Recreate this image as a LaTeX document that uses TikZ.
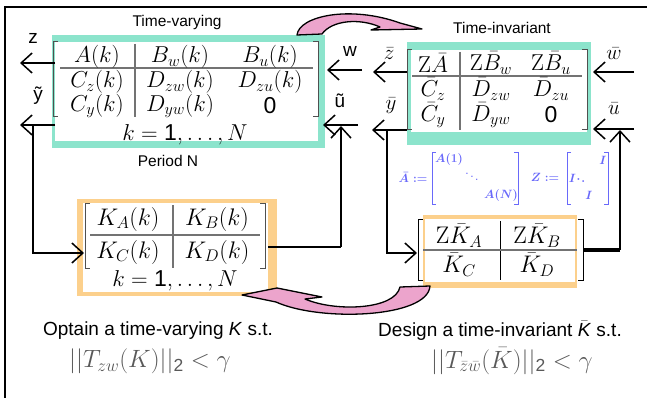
\RequirePackage{fix-cm}
\documentclass[tikz,border=0pt]{standalone}
\usepackage{amsmath}
\usepackage[no-math]{fontspec}
\setmainfont{Liberation Sans}
\usetikzlibrary{arrows.meta}
\definecolor{tealband}{RGB}{140,228,204}
\definecolor{orband}{RGB}{252,208,140}
\definecolor{pinkfill}{RGB}{236,164,204}
\definecolor{bluetext}{RGB}{105,105,250}
\definecolor{brk}{RGB}{80,80,80}
\newcommand\setfs[1]{\fontsize{#1}{#1}\selectfont}
\tikzset{
  conn/.style={line width=1.5pt,-{Straight Barb[length=11pt,width=20pt,line width=1.5pt]}},
  wire/.style={line width=1.5pt},
  brkst/.style={draw=brk,line width=1pt},
  sepst/.style={draw=brk!80,line width=1.1pt},
  ent/.style={font=\setfs{23},inner sep=0pt},
  entb/.style={font=\setfs{24},inner sep=0pt},
  lbl/.style={font=\setfs{15.5},inner sep=0pt},
  sig/.style={font=\setfs{19},inner sep=0pt},
  msig/.style={font=\setfs{21},inner sep=0pt},
  blue/.style={font=\setfs{12}\boldmath,text=bluetext,inner sep=0pt},
  capt/.style={font=\setfs{19},inner sep=0pt},
  form/.style={font=\setfs{25},text=black!65,inner sep=0pt},
  pinkarrow/.style={fill=pinkfill,draw=black,line width=1.3pt,line join=round}
}
\begin{document}
\begin{tikzpicture}[x=1pt,y=-1pt]
\useasboundingbox (0,0) rectangle (647,398);
% outer frame
\draw[line width=2pt] (4,7) -- (647,7);
\draw[line width=1.5pt] (5,7) -- (5,398);

% ---------- time-varying plant block ----------
\fill[tealband] (52,35) rectangle (325,148);
\fill[white] (55,42) rectangle (318,141);
\draw[brkst] (58,42) -- (53,42) -- (53,117) -- (58,117);
\draw[brkst] (313,42) -- (318,42) -- (318,117) -- (313,117);
\draw[sepst] (135,44) -- (135,117);
\draw[sepst] (60,68) -- (313,68);
\node[ent] (p11) at (97,57) {$A(k)$};
\node[ent] (p12) at (180,57) {$B_w(k)$};
\node[ent] (p13) at (270,57) {$B_u(k)$};
\node[ent] (p21) at (97,82) {$C_z(k)$};
\node[ent] (p22) at (180,82) {$D_{zw}(k)$};
\node[ent] (p23) at (270,82) {$D_{zu}(k)$};
\node[ent] (p31) at (97,106) {$C_y(k)$};
\node[ent] (p32) at (180,106) {$D_{yw}(k)$};
\node[ent] (p33) at (270,106) {$\text{0}$};
\node[ent] (pk) at (185,135) {$k=\text{1},\ldots,N$};
\node[lbl] (tv) at (177,22) {Time-varying};
\node[lbl] (per) at (168,161) {Period N};

% ---------- time-invariant plant block ----------
\fill[tealband] (407,42) rectangle (591,145);
\fill[white] (411,50) rectangle (587,132);
\draw[brkst] (412,50) -- (407,50) -- (407,130) -- (412,130);
\draw[brkst] (582,50) -- (587,50) -- (587,130) -- (582,130);
\draw[sepst] (460,52) -- (460,130);
\draw[sepst] (412,76) -- (582,76);
\node[ent] (q11) at (433,63) {$\mathrm{Z}\bar A$};
\node[ent] (q12) at (491,63) {$\mathrm{Z}\bar B_w$};
\node[ent] (q13) at (551,63) {$\mathrm{Z}\bar B_u$};
\node[ent] (q21) at (433,89) {$\bar C_z$};
\node[ent] (q22) at (491,89) {$\bar D_{zw}$};
\node[ent] (q23) at (551,89) {$\bar D_{zu}$};
\node[ent] (q31) at (433,115) {$\bar C_y$};
\node[ent] (q32) at (491,115) {$\bar D_{yw}$};
\node[ent] (q33) at (551,115) {$\text{0}$};
\node[lbl] (ti) at (502,28) {Time-invariant};

% ---------- time-varying controller ----------
\fill[orband] (77,199) rectangle (277,296);
\fill[white] (83,203) rectangle (268,292);
\draw[brkst] (90,203) -- (85,203) -- (85,268) -- (90,268);
\draw[brkst] (260,203) -- (265,203) -- (265,268) -- (260,268);
\draw[sepst] (173,205) -- (173,268);
\draw[sepst] (90,235) -- (260,235);
\node[entb] (k11) at (128,219) {$K_A(k)$};
\node[entb] (k12) at (217,219) {$K_B(k)$};
\node[entb] (k21) at (128,252) {$K_C(k)$};
\node[entb] (k22) at (217,252) {$K_D(k)$};
\node[ent] (kk) at (175,281) {$k=\text{1},\ldots,N$};

% ---------- time-invariant controller ----------
\fill[orband] (423,215) rectangle (577,288);
\fill[white] (425,219) rectangle (575,282);
\draw[draw=black,line width=1pt] (423,219) -- (418,219) -- (418,280) -- (423,280);
\draw[draw=black,line width=1pt] (578,219) -- (583,219) -- (583,280) -- (578,280);
\draw[draw=black,line width=0.9pt] (500,221) -- (500,280);
\draw[sepst] (423,250) -- (577,250);
\node[entb] (b11) at (459,236) {$\mathrm{Z}\bar K_A$};
\node[entb] (b12) at (537,236) {$\mathrm{Z}\bar K_B$};
\node[entb] (b21) at (459,265) {$\bar K_C$};
\node[entb] (b22) at (537,265) {$\bar K_D$};

% ---------- blue definitions ----------
\node[blue] (abar) at (413,177) {$\bar A :=$};
\draw[bluetext,line width=0.9pt] (436,152) -- (432,152) -- (432,204) -- (436,204);
\draw[bluetext,line width=0.9pt] (514,152) -- (518,152) -- (518,204) -- (514,204);
\node[blue] (a1) at (449,160) {$A(1)$};
\node[blue] (ad) at (472,174) {$\ddots$};
\node[blue] (aN) at (501,195) {$A(N)$};
\node[blue] (zdef) at (545,177) {$Z :=$};
\draw[bluetext,line width=0.9pt] (571,152) -- (567,152) -- (567,204) -- (571,204);
\draw[bluetext,line width=0.9pt] (604,152) -- (608,152) -- (608,204) -- (604,204);
\node[blue] (z1) at (603,160) {$I$};
\node[blue] (z2) at (577,178) {$I\!\cdot\!.$};
\node[blue] (z3) at (589,195) {$I$};

% ---------- coordinates for connectors ----------
\coordinate (zS) at (55,63);  \coordinate (zE) at (20,63);
\coordinate (yS) at (55,125); \coordinate (yE) at (20,125);
\coordinate (yT) at (33,125); \coordinate (yB) at (33,253); \coordinate (kIn) at (84,253);
\coordinate (wS) at (362,70); \coordinate (wE) at (327,70);
\coordinate (utS) at (358,125); \coordinate (utE) at (323,125);
\coordinate (kOut) at (268,247); \coordinate (kC) at (341,247); \coordinate (utT) at (341,126);
\coordinate (zbS) at (407,72); \coordinate (zbE) at (373,72);
\coordinate (ybS) at (407,130); \coordinate (ybE) at (372,130);
\coordinate (ybT) at (387,130); \coordinate (ybB) at (387,253); \coordinate (kbIn) at (417,253);
\coordinate (wbS) at (634,72); \coordinate (wbE) at (593,72);
\coordinate (ubS) at (634,129); \coordinate (ubE) at (593,129);
\coordinate (kbOut) at (583,250); \coordinate (kbC) at (620,250); \coordinate (ubT) at (620,130);

\draw[conn] (zS) -- (zE);
\draw[conn] (yS) -- (yE);
\draw[conn] (yT) -- (yB) -- (kIn);
\draw[conn] (wS) -- (wE);
\draw[conn] (utS) -- (utE);
\draw[wire] (kOut) -- (kC);
\draw[conn] (kC) -- (utT);
\draw[conn] (zbS) -- (zbE);
\draw[conn] (ybS) -- (ybE);
\draw[conn] (ybT) -- (ybB) -- (kbIn);
\draw[conn] (wbS) -- (wbE);
\draw[conn] (ubS) -- (ubE);
\draw[line width=3.2pt] (kbOut) -- (kbC);
\draw[conn] (kbC) -- (ubT);

% signal labels
\node[sig] (lz) at (33,38) {z};
\node[sig] (ly) at (38,96) {\~{y}};
\node[sig] (lw) at (350,51) {w};
\node[sig] (lut) at (340,101) {\~{u}};
\node[msig] (lzb) at (389,54) {$\bar z$};
\node[msig] (lyb) at (391,106) {$\bar y$};
\node[msig] (lwb) at (614,54) {$\bar w$};
\node[msig] (lub) at (614,109) {$\bar u$};

% ---------- pink curved arrows ----------
\path[pinkarrow] (297,35) .. controls (299,16) and (350,5) .. (400,23)
  -- (422,29) -- (371,30) -- (380,27) .. controls (360,18) and (332,20) .. (322,34) -- cycle;
\path[pinkarrow] (430,286) .. controls (428,318) and (320,322) .. (276,302)
  -- (242,295) -- (277,288) -- (322,297) -- (305,299)
  .. controls (335,312) and (395,310) .. (400,287) -- cycle;

% ---------- captions ----------
\node[capt] (c1) at (158,331) {Optain a time-varying \textit{K} s.t.};
\node[form] (f1) at (150,361) {$||T_{zw}(K)||_{\text{2}} < \gamma$};
\node[capt] (c2) at (500,331) {Design a time-invariant $\bar{\text{\textit{K}}}$ s.t.};
\node[form] (f2) at (512,361) {$||T_{\bar z\bar w}(\bar K)||_{\text{2}} < \gamma$};
\end{tikzpicture}
\end{document}
